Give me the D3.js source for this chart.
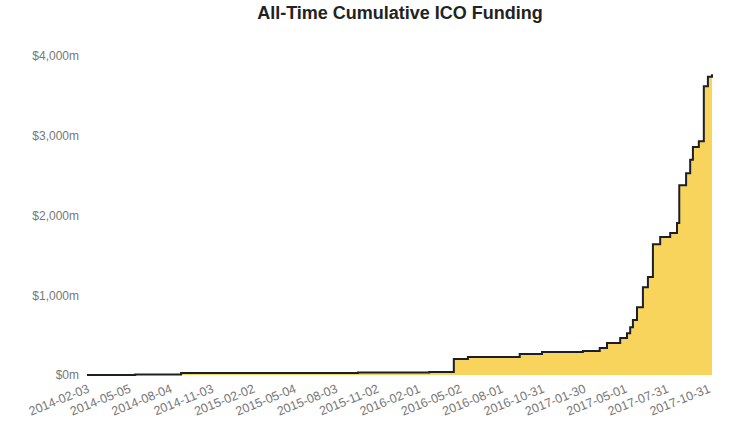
<!DOCTYPE html><html><head><meta charset="utf-8">
<script src="https://cdn.jsdelivr.net/npm/d3@7"></script>
<style>body{margin:0;background:#fff;font-family:"Liberation Sans",Arial,sans-serif}</style></head><body><svg id="c" width="731" height="429"></svg>
<script>
const dates=["2014-02-03","2014-05-20","2014-08-29","2015-09-22","2016-02-26","2016-04-20","2016-05-21","2016-09-12","2016-10-31","2017-01-29","2017-03-07","2017-03-23","2017-04-21","2017-05-06","2017-05-13","2017-05-19","2017-05-28","2017-06-10","2017-06-21","2017-07-02","2017-07-18","2017-08-09","2017-08-24","2017-08-29","2017-09-13","2017-09-22","2017-09-28","2017-10-11","2017-10-22","2017-10-31","2017-11-09"];
const funding=[0,5,25,32,38,200,225,263,288,300,338,400,463,525,600,690,850,1100,1230,1640,1730,1780,1905,2380,2530,2700,2860,2930,3620,3740,3770];
const xTicks=["2014-02-03","2014-05-05","2014-08-04","2014-11-03","2015-02-02","2015-05-04","2015-08-03","2015-11-02","2016-02-01","2016-05-02","2016-08-01","2016-10-31","2017-01-30","2017-05-01","2017-07-31","2017-10-31"];
const yTicks=[0,1000,2000,3000,4000];
const p=d3.utcParse("%Y-%m-%d");
const data=dates.map((d,i)=>({d:p(d),v:funding[i]}));
const m={l:87,r:19,t:56,b:54},W=731,H=429;
const svg=d3.select("#c");
const x=d3.scaleUtc().domain([p(dates[0]),p(dates[dates.length-1])]).range([m.l,W-m.r]);
const y=d3.scaleLinear().domain([0,4000]).range([H-m.b,m.t]);
svg.append("text").attr("x",400).attr("y",19).attr("text-anchor","middle").attr("font-size",18).attr("font-weight","bold").attr("fill","#222").text("All-Time Cumulative ICO Funding");
svg.append("path").datum(data).attr("fill","#f9d45c").attr("d",d3.area().curve(d3.curveStepAfter).x(d=>x(d.d)).y0(y(0)).y1(d=>y(d.v)));
svg.append("path").datum(data).attr("fill","none").attr("stroke","#1b1f2a").attr("stroke-width",2).attr("d",d3.line().curve(d3.curveStepAfter).x(d=>x(d.d)).y(d=>y(d.v)));
const ya=svg.append("g").attr("transform",`translate(${m.l},0)`).call(d3.axisLeft(y).tickValues(yTicks).tickSize(0).tickPadding(8).tickFormat(d=>"$"+d3.format(",")(d)+"m"));
ya.select(".domain").remove();
ya.selectAll("text").attr("fill","#777").attr("font-size",12);
const xa=svg.append("g").attr("transform",`translate(0,${H-m.b})`).call(d3.axisBottom(x).tickValues(xTicks.map(p)).tickSize(0).tickFormat(d3.utcFormat("%Y-%m-%d")));
xa.select(".domain").remove();
xa.selectAll("text").attr("fill","#777").attr("font-size",12.5).attr("text-anchor","end").attr("dy","0.35em").attr("transform","translate(0,10) rotate(-22)");
</script></body></html>
